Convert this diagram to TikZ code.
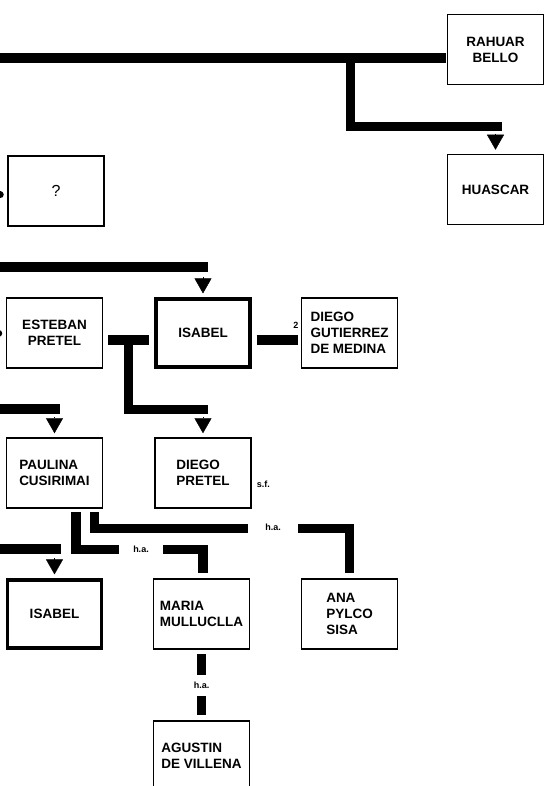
\documentclass[tikz,border=0pt]{standalone}
\usepackage{fontspec}
\setmainfont{Liberation Sans}
\usetikzlibrary{arrows.meta,calc}

\begin{document}
\begin{tikzpicture}[x=1pt,y=-1pt,
    caja/.style={draw,line width=1.5pt,minimum width=96pt,minimum height=70pt,inner sep=2pt,
      font=\bfseries\fontsize{13.5}{16}\selectfont,align=center},
    gruesa/.style={caja,line width=3.2pt,minimum width=94pt,minimum height=68pt},
    barra/.style={line width=9.5pt},
    punta/.style={-{Triangle[length=15pt,width=17pt]},line width=0.4pt,shorten >=4pt},
    nota/.style={font=\bfseries\fontsize{9}{10}\selectfont,inner sep=1pt},
    hueco/.style={nota,fill=white,minimum height=13pt}]
  \useasboundingbox (0,0) rectangle (544,786);
  \clip (0,0) rectangle (544,786);
  % cajas
  \node[caja] (rahuar) at (495.5,49.5) {RAHUAR\\BELLO};
  \node[caja] (huascar) at (495.5,189.5) {HUASCAR};
  \node[caja,font=\fontsize{16}{18}\selectfont] (incog) at (56,191) {?};
  \node[caja] (esteban) at (54.5,333) {ESTEBAN\\PRETEL};
  \node[gruesa] (isabelA) at (203,333) {ISABEL};
  \node[caja,align=left] (diegoG) at (349.5,333) {DIEGO\\GUTIERREZ\\DE MEDINA};
  \node[caja,align=left] (paulina) at (54.5,473) {PAULINA\\CUSIRIMAI};
  \node[caja,align=left] (diegoP) at (203,473) {DIEGO\\PRETEL};
  \node[gruesa] (isabelB) at (54.5,614) {ISABEL};
  \node[caja,align=left] (maria) at (201.5,614) {MARIA\\MULLUCLLA};
  \node[caja,align=left] (ana) at (349.5,614) {ANA\\PYLCO\\SISA};
  \node[caja,align=left] (agustin) at (201.5,756) {AGUSTIN\\DE VILLENA};
  % lineas
  \coordinate (izqA) at (0,58);
  \coordinate (ramaH) at (350.5,58);
  \draw[barra,shorten >=1pt] (izqA) -- (izqA -| rahuar.west);
  \draw[barra] (ramaH) |- ($(huascar.north)+(6,-27)$);
  \coordinate (izqQ) at (-20,195);
  \draw[barra,line width=7pt,line cap=round,shorten >=7pt] (izqQ) -- (izqQ -| incog.west);
  \coordinate (izqE) at (-20,333);
  \draw[barra,line width=7pt,line cap=round,shorten >=7pt] (izqE) -- (esteban.west);
  \coordinate (izqB) at (0,267);
  \draw[barra] (izqB) -- ($(izqB -| isabelA.north)+(5,0)$);
  \draw[barra,shorten <=5pt,shorten >=5pt] ([yshift=-7pt]esteban.east) -- ([yshift=-7pt]isabelA.west);
  \draw[barra,shorten <=5pt,shorten >=3pt] ([yshift=-7pt]isabelA.east) -- ([yshift=-7pt]diegoG.west);
  \coordinate (nudoE) at (128.5,340);
  \draw[barra] (nudoE) |- ($(diegoP.north)+(5,-28)$);
  \coordinate (izqC) at (0,409);
  \draw[barra] (izqC) -- ($(izqC -| paulina.north)+(5,0)$);
  \draw[barra,shorten <=3pt] ([xshift=21.5pt]paulina.south) |- ([xshift=1.5pt,yshift=29pt]maria.north)
    -- ([xshift=1.5pt,yshift=5pt]maria.north);
  \draw[barra,shorten <=3pt] ([xshift=40pt]paulina.south) |- ([yshift=50pt]ana.north) -- ([yshift=5pt]ana.north);
  \coordinate (izqD) at (0,549);
  \draw[barra] (izqD) -- ($(izqD -| isabelB.north)+(6,0)$);
  \draw[barra,shorten <=4pt,shorten >=5pt] (maria.south) -- (agustin.north);
  % puntas
  \foreach \b in {huascar,isabelA,paulina,diegoP,isabelB}
    \draw[punta] ([yshift=20pt]\b.north) -- (\b.north);
  % rotulos
  \node[nota] (dos) at ([xshift=-5pt,yshift=8pt]diegoG.west) {2};
  \node[nota,anchor=west] (sf) at ([xshift=4pt,yshift=-11pt]diegoP.east) {s.f.};
  \node[hueco,minimum width=44pt] (ha1) at (141,549) {h.a.};
  \node[hueco,minimum width=50pt] (ha2) at (273,527) {h.a.};
  \node[hueco,minimum height=21pt] (ha3) at ($(maria.south)!.5!(agustin.north)$) {h.a.};
\end{tikzpicture}
\end{document}
